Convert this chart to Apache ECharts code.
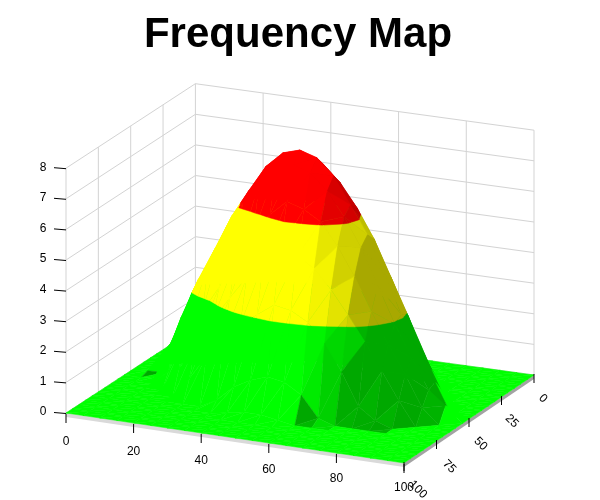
<!DOCTYPE html>
<html><head><meta charset="utf-8">
<style>html,body{margin:0;padding:0;background:#fff}#c{width:600px;height:500px}</style>
<script src="https://cdn.jsdelivr.net/npm/echarts@6/dist/echarts.min.js"></script>
</head><body><div id="c"></div>
<script>
const titleText = 'Frequency Map';
const xTicks = [0,20,40,60,80,100];
const yTicks = [0,25,50,75,100];
const zTicks = [0,1,2,3,4,5,6,7,8];
const xValues = [0,5,10,15,20,25,30,35,40,45,50,55,60,65,70,75,80,85,90,95,100];
const yValues = [0,5,10,15,20,25,30,35,40,45,50,55,60,65,70,75,80,85,90,95,100];
const zeroRow = [0,0,0,0,0,0,0,0,0,0,0,0,0,0,0,0,0,0,0,0,0];
const row20 = [0,0,0,0,0,0,0,0,0.25,0.4,0.5,0.4,0.25,0,0,0,0,0,0,0,0];
const row25 = [0,0,0,0,0,0,0,0.3,0.85,1.3,1.65,1.85,1.95,1.85,1.65,1.3,0.3,0,0,0,0];
const row30 = [0,0,0,0,0,0.7,1.5,2.1,2.65,3.1,3.4,3.4,3.1,2.65,2.1,1.5,0.7,0,0,0,0];
const row35 = [0,0,0,0,0.8,1.67,2.55,3.35,4.1,4.7,5.05,5.05,4.7,4.1,3.35,2.55,1.4,0.3,0,0,0];
const row40 = [0,0,0.8,1.1,1.8,2.6,3.4,4.47,5.38,6.1,6.43,6.43,6.1,5.38,4.47,3.4,2.2,1.1,0,0,0];
const row45 = [0,0,0.93,2.1,3.1,4.2,5.27,6.2,6.95,7.48,7.65,7.48,6.95,6.2,5.27,4.1,2.93,1.6,0.4,0,0];
const row50 = [0,0.08,0.1,2.0,3.3,4.4,5.55,6.45,7.31,7.83,8,7.83,7.31,6.45,5.55,4.35,3.1,2.05,1.05,0,0];
const row55 = [0,0,0.1,1.58,3.0,4.1,5.27,6.2,6.95,7.48,7.65,7.48,6.95,6.2,5.27,4.1,2.93,1.9,0.93,0.5,0];
const row60 = [0,0,0,0.5,1.7,2.6,3.5,4.47,5.38,6.1,6.6,6.43,6.1,5.38,4.47,3.4,2.4,1.5,0.5,0,0];
const row65 = [0,0,0,0,0.8,1.67,2.55,3.35,4.1,4.7,5.2,5.05,4.7,4.1,3.35,2.55,1.67,0.8,0,0,0];
const row70 = [0,0,0,0,0,0.7,1.5,2.1,2.65,3.1,3.5,3.4,3.1,2.5,1.64,0.58,0.2,0,0,0,0];
const row75 = [0,0,0,0,0,0,0,0.3,0.8,1.1,1.3,1.2,0.86,0.18,0,0,0,0,0,0,0];
const row80 = [0,0,0,0,0,0,0,0,0.1,0.2,0.2,0.1,0,0,0,0,0,0,0,0,0];
const zGrid = [zeroRow,zeroRow,zeroRow,zeroRow,row20,row25,row30,row35,row40,row45,row50,row55,row60,row65,row70,row75,row80,zeroRow,zeroRow,zeroRow,zeroRow];

const BAND_COLORS = [[0,255,0],[255,255,0],[255,0,0]];
const BAND_LIMITS = [0,3,6,100];
// Facet tones: "xIndex,yIndex,triangle" -> tone
const FACET_TONES = {'12,15,0':0.66,'12,15,1':0.72,'13,15,0':0.87,'13,15,1':0.87,'13,14,0':0.82,'13,14,1':0.82,
  '14,14,0':0.68,'14,14,1':0.7,'15,14,0':0.68,'15,14,1':0.68,'16,14,0':0.66,'16,14,1':0.7,
  '18,9,0':1,'18,9,1':1,'18,8,0':1,'18,8,1':1,'17,7,0':1,'17,7,1':1,'17,6,0':1,'17,6,1':1,'16,5,0':1,'16,5,1':1,
  '16,4,0':1,'16,4,1':1,'19,10,0':1,'19,10,1':1,'19,11,0':1,'19,11,1':1,'1,10,0':0.66};

// Oblique projection of the plot box: floor corners plus a vertical scale.
function project(x,y,z){
  const u=x/100,v=y/100;
  const sx=(1-u)*(1-v)*195.4+u*(1-v)*534+(1-u)*v*66+u*v*404;
  const sy=(1-u)*(1-v)*328.5+u*(1-v)*375+(1-u)*v*413+u*v*463;
  return [sx,sy-z*30.6];
}
function clipZ(poly,lo,hi){
  const cut=(pts,keep,level)=>{
    const out=[];
    for(let i=0;i<pts.length;i++){
      const a=pts[i],b=pts[(i+1)%pts.length],ka=keep(a[2]),kb=keep(b[2]);
      if(ka)out.push(a);
      if(ka!==kb){const t=(level-a[2])/(b[2]-a[2]);out.push([a[0]+t*(b[0]-a[0]),a[1]+t*(b[1]-a[1]),level]);}
    }
    return out;
  };
  let p=cut(poly,z=>z>=lo,lo);
  if(p.length)p=cut(p,z=>z<=hi,hi);
  return p;
}
function shadeOf(t){
  const [a,b,c]=t;
  const ux=b[0]-a[0],uy=b[1]-a[1],uz=b[2]-a[2],vx=c[0]-a[0],vy=c[1]-a[1],vz=c[2]-a[2];
  const nz=ux*vy-uy*vx;
  const zx=-(uy*vz-uz*vy)/nz, zy=-(uz*vx-ux*vz)/nz;
  const g=zx-0.6*Math.max(0,zy);
  const cx=(a[0]+b[0]+c[0])/3;
  const thr=Math.max(0,Math.min(0.1,0.1-(cx-70)/60));
  let s=Math.max(0.66,Math.min(1,1+(g+thr)*2.2));
  if(cx>=72&&Math.abs(zx)+Math.abs(zy)>0.01)s=Math.min(s,0.7);
  return s;
}
const cells=[];
for(let j=0;j<yValues.length-1;j++)for(let i=0;i<xValues.length-1;i++)cells.push([i,j]);
cells.sort((a,b)=>(a[0]+a[1])-(b[0]+b[1]));

function renderCell(params,api){
  const i=api.value(0),j=api.value(1);
  const P=(a,b)=>[xValues[a],yValues[b],zGrid[b][a]];
  const A=P(i,j),B=P(i+1,j),C=P(i+1,j+1),D=P(i,j+1);
  const children=[];
  [[A,B,D],[B,C,D]].forEach((tri,n)=>{
    const tone=FACET_TONES[i+','+j+','+n];
    const s=tone!==undefined?tone:shadeOf(tri);
    BAND_COLORS.forEach((col,k)=>{
      const poly=clipZ(tri,BAND_LIMITS[k],BAND_LIMITS[k+1]);
      if(poly.length<3)return;
      const pts=poly.map(p=>api.coord(project(p[0],p[1],p[2])));
      const fill='rgb('+col.map(c=>Math.round(c*s)).join(',')+')';
      children.push({type:'polygon',shape:{points:pts},style:{fill:fill,stroke:fill,lineWidth:0.5}});
    });
  });
  return {type:'group',children:children};
}
const GRID='#d3d3d3';
const wallLines=[];
zTicks.forEach(z=>{wallLines.push([0,0,z,100,0,z]);wallLines.push([0,0,z,0,100,z]);});
xTicks.forEach(x=>wallLines.push([x,0,0,x,0,8]));
yTicks.slice(1).forEach(y=>wallLines.push([0,y,0,0,y,8]));
function renderWall(params,api){
  const a=api.coord(project(api.value(0),api.value(1),api.value(2)));
  const b=api.coord(project(api.value(3),api.value(4),api.value(5)));
  return {type:'line',shape:{x1:a[0],y1:a[1],x2:b[0],y2:b[1]},style:{stroke:GRID,lineWidth:1}};
}
function renderBase(params,api){
  const c=(x,y,z)=>api.coord(project(x,y,z));
  return {type:'group',children:[
    {type:'polygon',shape:{points:[c(0,100,0),c(100,100,0),c(100,100,-0.13),c(0,100,-0.13)]},style:{fill:'#d9d9d9'}},
    {type:'polygon',shape:{points:[c(100,100,0),c(100,0,0),c(100,0,-0.13),c(100,100,-0.13)]},style:{fill:'#a3a3a3'}}
  ]};
}
const FONT='12px "Liberation Sans", Arial, sans-serif';
function renderAxes(params,api){
  const ch=[];
  const c=(x,y,z)=>api.coord(project(x,y,z));
  const tick=(p,dx1,dy1,dx2,dy2)=>ch.push({type:'line',shape:{x1:p[0]+dx1,y1:p[1]+dy1,x2:p[0]+dx2,y2:p[1]+dy2},style:{stroke:'#000',lineWidth:1}});
  const label=(t,x,y,rot)=>ch.push({type:'text',x:x,y:y,rotation:rot||0,style:{text:String(t),x:0,y:0,font:FONT,fill:'#000',align:'center',verticalAlign:'middle'}});
  xTicks.forEach(v=>{const p=c(v,100,0);tick(p,0,1,0,10);label(v,p[0],p[1]+29-0.04*v);});
  yTicks.forEach(v=>{const p=c(100,v,0);tick(p,0,-1,0,8);label(v,p[0]+9+0.05*v,p[1]+23.5+0.03*v,-Math.PI/4);});
  zTicks.forEach(v=>{const p=c(0,100,v);tick(p,-12,-0.5,0,0.5);label(v,p[0]-23,p[1]-1);});
  return {type:'group',children:ch};
}
const chart=echarts.init(document.getElementById('c'),null,{renderer:'canvas'});
const hiddenAxis={type:'value',show:false,min:0};
chart.setOption({
  animation:false,
  backgroundColor:'#fff',
  title:{text:titleText,left:293,top:9,textAlign:'center',textStyle:{fontFamily:'"Liberation Sans", Arial, sans-serif',fontWeight:'bold',fontSize:42,color:'#000'}},
  grid:{left:0,right:0,top:0,bottom:0},
  xAxis:Object.assign({},hiddenAxis,{max:600}),
  yAxis:Object.assign({},hiddenAxis,{max:500,inverse:true}),
  tooltip:{show:false},
  series:[
    {type:'custom',name:'walls',coordinateSystem:'cartesian2d',silent:true,clip:false,data:wallLines,encode:{x:0,y:1},renderItem:renderWall,z:1},
    {type:'custom',name:'base',coordinateSystem:'cartesian2d',silent:true,clip:false,data:[[0]],encode:{x:0,y:0},renderItem:renderBase,z:2},
    {type:'custom',name:'surface',coordinateSystem:'cartesian2d',silent:true,clip:false,progressive:0,data:cells,encode:{x:0,y:1},renderItem:renderCell,z:3},
    {type:'custom',name:'axes',coordinateSystem:'cartesian2d',silent:true,clip:false,data:[[0]],encode:{x:0,y:0},renderItem:renderAxes,z:4}
  ]
});
</script></body></html>
